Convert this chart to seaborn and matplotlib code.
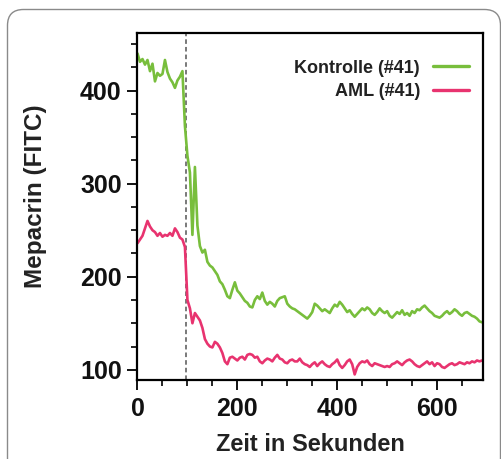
import numpy as np
import pandas as pd
import seaborn as sns
import matplotlib
matplotlib.use("Agg")
import matplotlib.pyplot as plt
from matplotlib.patches import FancyBboxPatch
from matplotlib.transforms import IdentityTransform
from matplotlib.ticker import MultipleLocator

kontrolle = [440, 431, 434, 428, 433, 421, 429, 410, 419, 416,
             418, 433, 420, 413, 409, 403, 411, 415, 421, 362,
             330, 312, 245, 318, 255, 233, 226, 229, 216, 212,
             210, 206, 202, 195, 192, 186, 179, 177, 186, 194,
             185, 182, 178, 174, 172, 168, 167, 175, 179, 176,
             183, 174, 170, 173, 171, 168, 174, 177, 178, 179,
             171, 168, 166, 165, 163, 161, 159, 157, 155, 158,
             162, 171, 169, 166, 163, 165, 163, 161, 166, 170,
             168, 173, 170, 166, 162, 164, 160, 157, 160, 163,
             166, 164, 167, 165, 161, 159, 162, 166, 163, 161,
             163, 158, 156, 159, 162, 160, 164, 159, 161, 158,
             163, 161, 165, 164, 167, 169, 166, 163, 161, 158,
             157, 156, 158, 161, 163, 160, 162, 165, 163, 160,
             158, 161, 162, 160, 158, 157, 155, 152, 151]
aml = [236, 240, 244, 252, 260, 254, 250, 248, 244, 247,
       243, 245, 244, 247, 244, 252, 248, 242, 240, 232,
       175, 166, 150, 161, 157, 153, 145, 133, 128, 125,
       124, 130, 128, 124, 118, 109, 106, 113, 114, 112,
       110, 113, 114, 111, 116, 117, 116, 113, 114, 109,
       107, 110, 112, 111, 109, 113, 116, 112, 111, 108,
       107, 110, 111, 109, 109, 112, 108, 106, 105, 103,
       106, 108, 104, 107, 109, 106, 104, 103, 106, 108,
       111, 105, 102, 105, 109, 111, 106, 95, 103, 107,
       109, 108, 110, 106, 104, 107, 106, 105, 104, 103,
       104, 103, 106, 107, 109, 107, 105, 108, 110, 111,
       109, 106, 104, 103, 105, 107, 109, 106, 108, 104,
       107, 106, 103, 102, 104, 106, 107, 105, 106, 108,
       107, 106, 108, 107, 109, 108, 110, 109, 110]
series_names = ["Kontrolle (#41)", "AML (#41)"]
series_colors = ["#78be3c", "#e8336f"]
injection_time = 98
x_ticks = [0, 200, 400, 600]
y_ticks = [100, 200, 300, 400]
x_label = "Zeit in Sekunden"
y_label = "Mepacrin (FITC)"

step = 5
times = np.arange(len(kontrolle)) * step
df = pd.DataFrame({
    "t": np.concatenate([times, np.arange(len(aml)) * step]),
    "v": kontrolle + aml,
    "s": [series_names[0]] * len(kontrolle) + [series_names[1]] * len(aml),
})

sns.set_theme(style="ticks")
plt.rcParams["font.family"] = ["Liberation Sans", "DejaVu Sans"]

W, H = 502, 459
fig = plt.figure(figsize=(W / 100, H / 100), dpi=100)
ax = fig.add_axes([137 / W, 1 - 380 / H, (483 - 137) / W, (380 - 33) / H])

sns.lineplot(data=df, x="t", y="v", hue="s", palette=series_colors,
             hue_order=series_names, ax=ax, linewidth=1.9, legend=True)

ax.axvline(injection_time, color="#555555", linestyle=(0, (3, 2)), linewidth=1.1, zorder=0)

ax.set_xlim(-1, 692)
ax.set_ylim(89, 462)
ax.set_xticks(x_ticks)
ax.set_yticks(y_ticks)
ax.xaxis.set_minor_locator(MultipleLocator(50))
ax.yaxis.set_minor_locator(MultipleLocator(25))
ax.tick_params(axis="both", which="major", direction="out", length=7, width=1.3,
               color="black", labelsize=18, pad=4)
ax.tick_params(axis="x", which="major", pad=5)
ax.tick_params(axis="both", which="minor", direction="out", length=4, width=1.2, color="black")
ax.tick_params(right=False, top=False, which="both")
for lbl in ax.get_xticklabels() + ax.get_yticklabels():
    lbl.set_fontweight("bold")
    lbl.set_color("#111111")

ax.set_xlabel(x_label, fontsize=17, fontweight="bold", color="#222222", labelpad=9)
ax.set_ylabel(y_label, fontsize=17.5, fontweight="bold", color="#222222")
ax.yaxis.set_label_coords(-0.26, 0.53)

for sp in ax.spines.values():
    sp.set_visible(True)
    sp.set_linewidth(1.6)
    sp.set_color("black")

leg = ax.legend(loc="upper right", bbox_to_anchor=(0.995, 0.96), frameon=False,
                markerfirst=False, fontsize=13, handlelength=2.0, handletextpad=0.7,
                labelspacing=0.35, borderaxespad=0.3)
for t in leg.get_texts():
    t.set_fontweight("bold")
    t.set_color("#222222")
for h in leg.get_lines():
    h.set_linewidth(2.4)

frame = FancyBboxPatch((7.5, -30), 493, (H - 9.5) + 30,
                       boxstyle="round,pad=0,rounding_size=16",
                       transform=IdentityTransform(), fill=False,
                       edgecolor="#8a8a8a", linewidth=1.0)
fig.add_artist(frame)

fig.savefig("out.png", dpi=100)
